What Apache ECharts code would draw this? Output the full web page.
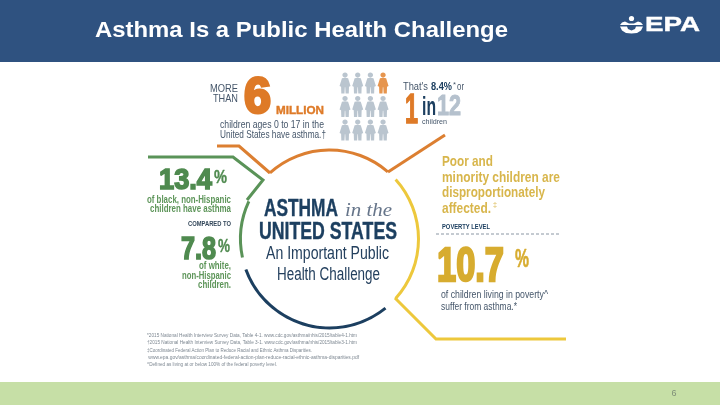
<!DOCTYPE html>
<html lang="en">
<head>
<meta charset="utf-8">
<title>Asthma Is a Public Health Challenge</title>
<script src="https://cdn.jsdelivr.net/npm/echarts@6/dist/echarts.min.js"></script>
<style>
	html,body{margin:0;padding:0;background:#fff;}
	#main{width:720px;height:405px;}
</style>
</head>
<body>
<div id="main"></div>
<script>
// values
var titleText="Asthma Is a Public Health Challenge";
var pageNumber="6";
var childrenMillions=[6];
var asthmaPercent=[8.4];
var oneIn=[1,12];
var blackPercent=[13.4];
var whitePercent=[7.8];
var povertyPercent=[10.7];

// 1 = the highlighted child
var peopleCols=["a","b","c","d"];
var peopleRows=["r1","r2","r3"];
var peopleFlags=[[0,0,0,1],[0,0,0,0],[0,0,0,0]];

// ring pieces, in degrees clockwise from the left notch of the orange arc
var arcNames=["orange","gap1","yellow","gap2","navy","gap3","green","gap4"];
var arcDegrees=[83,7,84,9,109,8,37,23];
var arcColors=["#dc7f31",null,"#edc83c",null,"#1c3f60",null,"#5a9358",null];

var footnotes=[
	"*2015 National Health Interview Survey Data, Table 4-1. www.cdc.gov/asthma/nhis/2015/table4-1.htm",
	"\u20202015 National Health Interview Survey Data, Table 3-1. www.cdc.gov/asthma/nhis/2015/table3-1.htm",
	"\u2021Coordinated Federal Action Plan to Reduce Racial and Ethnic Asthma Disparities.",
	" www.epa.gov/asthma/coordinated-federal-action-plan-reduce-racial-ethnic-asthma-disparities.pdf",
	"^Defined as living at or below 100% of the federal poverty level."
];

var NARROW='"Liberation Sans Narrow","Liberation Sans",sans-serif';
var ctx=document.createElement("canvas").getContext("2d");

// text placed by baseline and squeezed to the width seen in the picture
function txt(str,x,base,width,size,weight,fill,opt){
	opt=opt||{};
	var font=(opt.italic?"italic ":"")+weight+" "+size+"px "+(opt.family||NARROW);
	ctx.font=font;
	var sx=width?width/ctx.measureText(str).width:1;
	return {
		type:"text",silent:true,z:10,
		x:x,y:base-size*0.3,scaleX:sx,
		style:{
			text:str,x:0,y:0,font:font,fill:fill,
			align:opt.align||"left",verticalAlign:"middle",
			stroke:opt.stroke||null,lineWidth:opt.stroke?(opt.lw||1):0
		}
	};
}
function poly(points,color){
	return {
		type:"polyline",silent:true,z:5,
		shape:{points:points},
		style:{stroke:color,lineWidth:3,fill:null,lineJoin:"miter"}
	};
}
function logoPart(points){
	return {type:"polygon",silent:true,z:10,shape:{points:points},style:{fill:"#fff"}};
}

var SLATE="#45566a",NAVY="#1c3f60",ORANGE="#de7a27",GREEN="#4f8a4f",GREEN2="#5d9559",GOLD="#d7ac2f",GOLD2="#d8b64c",GREY12="#b5c1cd";

var els=[
	{type:"rect",silent:true,shape:{x:0,y:0,width:720,height:62},style:{fill:"#2f5280"}},
	{type:"rect",silent:true,shape:{x:0,y:382,width:720,height:23},style:{fill:"#c6dfa6"}},
	txt(titleText,95,38,413,22,"bold","#fff",{family:'"Liberation Sans",sans-serif'}),
	txt("EPA",645,32,55,21,"bold","#fff",{family:'"Liberation Sans",sans-serif',stroke:"#fff",lw:.4}),
	{type:"circle",silent:true,z:10,shape:{cx:631.5,cy:18.5,r:2.6},style:{fill:"#fff"}},
	logoPart([[620,25],[622,22.5],[625,21.5],[629,23.5],[634,23.5],[638,21.5],[641,22.5],[643,25]]),
	logoPart([[620,26.5],[627,26.5],[628,29],[631.5,30.5],[635,29],[636,26.5],[643,26.5],[641,30.5],[637,33],[631.5,33.5],[626,33],[622,30.5]]),
	txt(pageNumber,674,396,0,9,"normal","#7f8f78",{align:"center",family:'"Liberation Sans",sans-serif'}),

	// top left block
	txt("MORE",238,92,28,11,"normal",SLATE,{align:"right"}),
	txt("THAN",238,102,25,11,"normal",SLATE,{align:"right"}),
	txt(String(childrenMillions[0]),244,114.5,27,50,"bold",ORANGE,{stroke:ORANGE,lw:3}),
	txt("MILLION",276,114,48,11.5,"bold",ORANGE,{stroke:ORANGE,lw:.4}),
	txt("children ages 0 to 17 in the",220,128,104,11,"normal",SLATE),
	txt("United States have asthma.\u2020",220,138,106,11,"normal",SLATE),

	// 1 in 12 block
	txt("That's",403,90,25,11,"normal",SLATE),
	txt(asthmaPercent[0]+"%",431,90,21,11,"bold",NAVY),
	txt("*",453,87,3,7,"normal",SLATE),
	txt("or",457,90,7,11,"normal",SLATE),
	txt(String(oneIn[0]),405,124,13,42,"bold",ORANGE,{stroke:ORANGE,lw:1.5}),
	txt("in",422,116,14,26,"bold",NAVY),
	txt(String(oneIn[1]),437,116,24,30,"bold",GREY12,{stroke:GREY12,lw:1}),
	txt("children",422,124,25,8,"normal",SLATE),

	// right block
	txt("Poor and",442,166,51,15.5,"bold",GOLD2),
	txt("minority children are",442,182,118,15.5,"bold",GOLD2),
	txt("disproportionately",442,197,103,15.5,"bold",GOLD2),
	txt("affected.",442,213,49,15.5,"bold",GOLD2),
	txt("\u2021",493,207,4,8,"normal",GOLD2),
	txt("POVERTY LEVEL",442,229,48,8,"bold",NAVY),
	{type:"line",silent:true,z:5,shape:{x1:436,y1:234,x2:560,y2:234},style:{stroke:"#8a96a3",lineWidth:1,lineDash:[3,2]}},
	txt(povertyPercent[0].toFixed(1),437,282.5,67,48,"bold",GOLD,{stroke:GOLD,lw:2.5}),
	txt("%",515,268,14,26,"bold",GOLD,{stroke:GOLD,lw:.6}),
	txt("of children living in poverty^",441,298,107,11,"normal",SLATE),
	txt("suffer from asthma.*",441,310,76,11,"normal",SLATE),

	// left block
	txt(blackPercent[0].toFixed(1),159,189.5,53,29,"bold",GREEN,{stroke:GREEN,lw:1.6}),
	txt("%",214,183,13,19,"bold",GREEN,{stroke:GREEN,lw:.4}),
	txt("of black, non-Hispanic",231,203,84,10.5,"bold",GREEN2,{align:"right"}),
	txt("children have asthma",231,212,81,10.5,"bold",GREEN2,{align:"right"}),
	txt("COMPARED TO",231,226,43,7,"bold","#33475a",{align:"right"}),
	txt(whitePercent[0].toFixed(1),181,259.5,35,31,"bold",GREEN,{stroke:GREEN,lw:1.6}),
	txt("%",218,252,12,19,"bold",GREEN,{stroke:GREEN,lw:.4}),
	txt("of white,",231,269,32,10.5,"bold",GREEN2,{align:"right"}),
	txt("non-Hispanic",231,279,49,10.5,"bold",GREEN2,{align:"right"}),
	txt("children.",231,288,33,10.5,"bold",GREEN2,{align:"right"}),

	// centre of the ring
	txt("ASTHMA",264,217,74,24,"bold",NAVY,{stroke:NAVY,lw:.4}),
	txt("in the",345,217,47,19,"normal","#66758a",{italic:true,family:'"Liberation Serif",serif'}),
	txt("UNITED STATES",259,240,138,24,"bold",NAVY,{stroke:NAVY,lw:.4}),
	txt("An Important Public",266,259,123,17.5,"normal","#24405e"),
	txt("Health Challenge",277,280,103,17.5,"normal","#24405e"),

	// leader lines running out of the ring
	poly([[217,146],[239,146],[270,173]],"#dc7f31"),
	poly([[388,172],[445,135]],"#dc7f31"),
	poly([[148,157],[233,157],[263,180],[247,200]],"#5a9358"),
	poly([[395,298],[436,339],[566,339]],"#edc83c")
];

var noteBase=[337,344,352,359,366];
var noteWidth=[210,210,165,212,130];
for(var i=0;i<footnotes.length;i++){
	els.push(txt(footnotes[i],147,noteBase[i],noteWidth[i],5.5,"normal","#7d8791"));
}

var arcData=[];
for(var i=0;i<arcNames.length;i++){
	arcData.push({
		name:arcNames[i],value:arcDegrees[i],
		itemStyle:{color:arcColors[i]||"rgba(0,0,0,0)"}
	});
}
var peopleData=[];
for(var r=0;r<peopleRows.length;r++){
	for(var c=0;c<peopleCols.length;c++){
		peopleData.push({
			value:[peopleCols[c],peopleRows[r]],
			itemStyle:{color:peopleFlags[r][c]?"#e07a22":"#a9b6c3"}
		});
	}
}

var PERSON="path://M5,0 C6.4,0 7.4,1 7.4,2.4 C7.4,3.8 6.4,4.8 5,4.8 C3.6,4.8 2.6,3.8 2.6,2.4 C2.6,1 3.6,0 5,0 Z M2.2,5.6 Q5,4.6 7.8,5.6 L10,13 L8.6,13.5 L8.4,20 L5.5,20 L5.2,14 L4.8,14 L4.5,20 L1.6,20 L1.4,13.5 L0,13 Z";

var option={
	animation:false,
	backgroundColor:"#fff",
	grid:{left:338.7,top:71.2,width:50.7,height:70.5},
	xAxis:{type:"category",data:peopleCols,show:false},
	yAxis:{type:"category",data:peopleRows,inverse:true,show:false},
	series:[
		{
			type:"pie",silent:true,
			center:[329.5,239],radius:[87.5,90.5],
			startAngle:132,clockwise:true,
			label:{show:false},labelLine:{show:false},
			data:arcData
		},
		{
			type:"scatter",silent:true,
			symbol:PERSON,symbolSize:[11,21],
			data:peopleData
		}
	],
	graphic:{elements:els}
};

var chart=echarts.init(document.getElementById("main"),null,{renderer:"canvas"});
chart.setOption(option);
</script>
</body>
</html>
